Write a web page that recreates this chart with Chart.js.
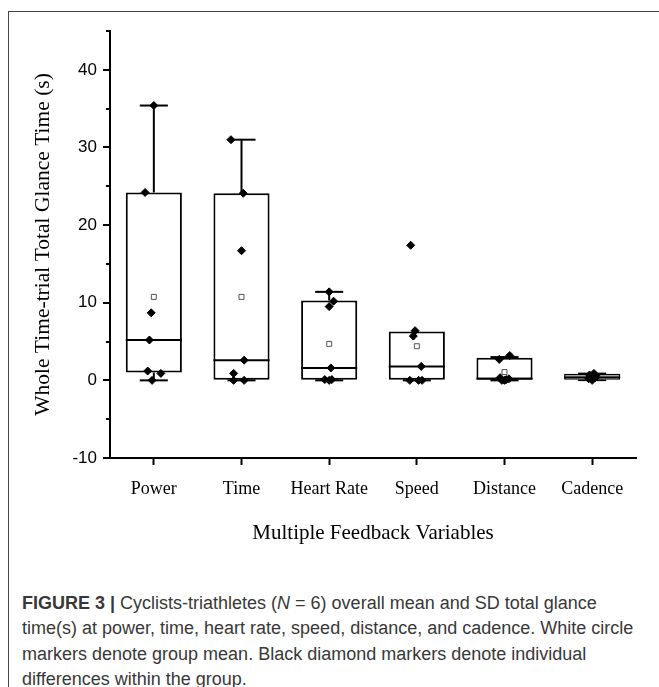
<!DOCTYPE html>
<html>
<head>
<meta charset="utf-8">
<script src="https://cdn.jsdelivr.net/npm/chart.js@4"></script>
<style>
  html, body { margin: 0; padding: 0; background: #fff; }
  body { width: 659px; height: 687px; position: relative; overflow: hidden; }
  #frame { position: absolute; left: 8px; top: 11px; width: 660px; height: 700px;
           border-left: 1.5px solid #444; border-top: 1.5px solid #444; }
  #chart { position: absolute; left: 0; top: 0; }
  #cap { position: absolute; left: 22px; top: 591px; white-space: nowrap;
         font-family: "Liberation Sans", Arial, sans-serif; font-size: 18px;
         line-height: 25.3px; color: #383838; }
</style>
</head>
<body>
<div id="frame"></div>
<canvas id="chart" width="659" height="560"></canvas>
<div id="cap"><b>FIGURE 3 |</b> Cyclists-triathletes (<i>N</i> = 6) overall mean and SD total glance<br>time(s) at power, time, heart rate, speed, distance, and cadence. White circle<br>markers denote group mean. Black diamond markers denote individual<br>differences within the group.</div>
<script>
const categories = ['Power', 'Time', 'Heart Rate', 'Speed', 'Distance', 'Cadence'];
const q1 = [1.0, 0, 0, 0, 0.1, 0];
const q3 = [24.2, 24.1, 10.3, 6.3, 2.9, 0.85];
const medians = [5.2, 2.6, 1.6, 1.8, 0.2, 0.4];
const whiskerLow = [0, 0, 0, 0, 0, 0];
const whiskerHigh = [35.4, 31.0, 11.4, 6.3, 3.0, 0.9];
const means = [10.75, 10.75, 4.7, 4.4, 1.07, 0.45];

// individual glance times, one list per variable
const individual = [
  [35.4, 24.2, 8.7, 5.2, 1.2, 0.9, 0],
  [31.0, 24.1, 16.7, 2.6, 0.9, 0, 0],
  [11.4, 10.2, 9.5, 1.6, 0.1, 0, 0.1],
  [17.4, 6.4, 5.7, 1.8, 0, 0, 0],
  [3.2, 2.7, 0.35, 0.2, 0.1, 0, 0],
  [0.9, 0.7, 0.6, 0.5, 0.3, 0.2, 0]
];
// small horizontal jitter (in category units)
const jitter = [
  [0, -0.1, -0.03, -0.05, -0.07, 0.08, -0.02],
  [-0.12, 0.02, 0, 0.03, -0.09, -0.09, 0.03],
  [0, 0.05, 0, 0.02, -0.05, 0, 0.03],
  [-0.07, -0.02, -0.04, 0.05, -0.08, 0.02, 0.06],
  [0.06, -0.06, -0.05, 0.05, 0.02, 0, -0.03],
  [0.02, -0.03, 0.04, -0.02, 0.03, -0.04, 0]
];
const boxFill = ['#fff', '#fff', '#fff', '#fff', '#fff', '#9a9a9a'];
const boxLine = [2, 2, 2, 2, 2, 1.5];

const diamonds = [];
individual.forEach((vals, i) => vals.forEach((v, j) => diamonds.push({ x: i + jitter[i][j], y: v })));

const boxExtras = {
  id: 'boxExtras',
  afterDatasetDraw(chart, args) {
    if (args.index !== 0) return;
    const ctx = chart.ctx;
    const y = chart.scales.y;
    ctx.save();
    ctx.strokeStyle = '#000';
    args.meta.data.forEach((bar, i) => {
      const cx = bar.x;
      const w = bar.width;
      ctx.lineWidth = boxLine[i];
      const line = (x1, y1, x2, y2) => { ctx.beginPath(); ctx.moveTo(x1, y1); ctx.lineTo(x2, y2); ctx.stroke(); };
      // median
      line(cx - w / 2, y.getPixelForValue(medians[i]), cx + w / 2, y.getPixelForValue(medians[i]));
      // whiskers
      if (whiskerHigh[i] > q3[i]) {
        line(cx, y.getPixelForValue(q3[i]), cx, y.getPixelForValue(whiskerHigh[i]));
        line(cx - w / 4, y.getPixelForValue(whiskerHigh[i]), cx + w / 4, y.getPixelForValue(whiskerHigh[i]));
      }
      if (whiskerLow[i] < q1[i]) line(cx, y.getPixelForValue(q1[i]), cx, y.getPixelForValue(whiskerLow[i]));
      line(cx - w / 4, y.getPixelForValue(whiskerLow[i]), cx + w / 4, y.getPixelForValue(whiskerLow[i]));
    });
    ctx.restore();
  },
  afterDraw(chart) {
    // major and minor ticks on the y axis
    const ctx = chart.ctx;
    const y = chart.scales.y;
    ctx.save();
    ctx.strokeStyle = '#000';
    ctx.lineWidth = 2;
    y.ticks.forEach(t => {
      const py = Math.round(y.getPixelForValue(t.value));
      const len = t.value % 10 === 0 ? 7 : 4;
      ctx.beginPath();
      ctx.moveTo(y.right - len, py);
      ctx.lineTo(y.right, py);
      ctx.stroke();
    });
    ctx.restore();
  }
};

new Chart(document.getElementById('chart'), {
  type: 'bar',
  data: {
    labels: categories,
    datasets: [
      {
        data: categories.map((c, i) => [q1[i], q3[i]]),
        backgroundColor: boxFill,
        borderColor: '#000',
        borderWidth: boxLine,
        borderSkipped: false,
        grouped: false,
        barPercentage: 0.64,
        categoryPercentage: 1,
        order: 3
      },
      {
        type: 'scatter',
        xAxisID: 'xj',
        data: means.map((m, i) => ({ x: i, y: m })),
        pointStyle: 'rect',
        radius: 3.5,
        backgroundColor: '#fff',
        borderColor: '#555',
        borderWidth: 1,
        order: 2
      },
      {
        type: 'scatter',
        xAxisID: 'xj',
        data: diamonds,
        pointStyle: 'rectRot',
        radius: 4,
        backgroundColor: '#000',
        borderColor: '#000',
        borderWidth: 1,
        order: 1
      }
    ]
  },
  options: {
    responsive: false,
    animation: false,
    events: [],
    layout: { padding: { top: 31, right: 23, left: 0, bottom: 0 } },
    plugins: { legend: { display: false }, tooltip: { enabled: false } },
    scales: {
      x: {
        type: 'category',
        offset: true,
        grid: { offset: false, drawOnChartArea: false, tickLength: 7, tickColor: '#000', tickWidth: 2 },
        border: { color: '#000', width: 2 },
        ticks: { color: '#000', padding: 13, font: { family: 'Liberation Serif', size: 18 } },
        title: {
          display: true, text: 'Multiple Feedback Variables', color: '#000',
          font: { family: 'Liberation Serif', size: 21 }, padding: { top: 0, bottom: 14 }
        },
        afterFit(scale) { scale.height = 102; }
      },
      xj: { type: 'linear', display: false, offset: false, min: -0.5, max: 5.5 },
      y: {
        min: -10, max: 45,
        ticks: {
          stepSize: 5, color: '#000', padding: 13,
          font: { family: 'Liberation Sans', size: 17 },
          callback: v => (v % 10 === 0 ? v : '')
        },
        grid: { drawOnChartArea: false, drawTicks: false },
        border: { color: '#000', width: 2 },
        title: {
          display: true, text: 'Whole Time-trial Total Glance Time (s)', color: '#000',
          font: { family: 'Liberation Serif', size: 21.5 }, padding: { top: 30, bottom: 0 }
        },
        afterFit(scale) { scale.width = 110; }
      }
    }
  },
  plugins: [boxExtras]
});
</script>
</body>
</html>
